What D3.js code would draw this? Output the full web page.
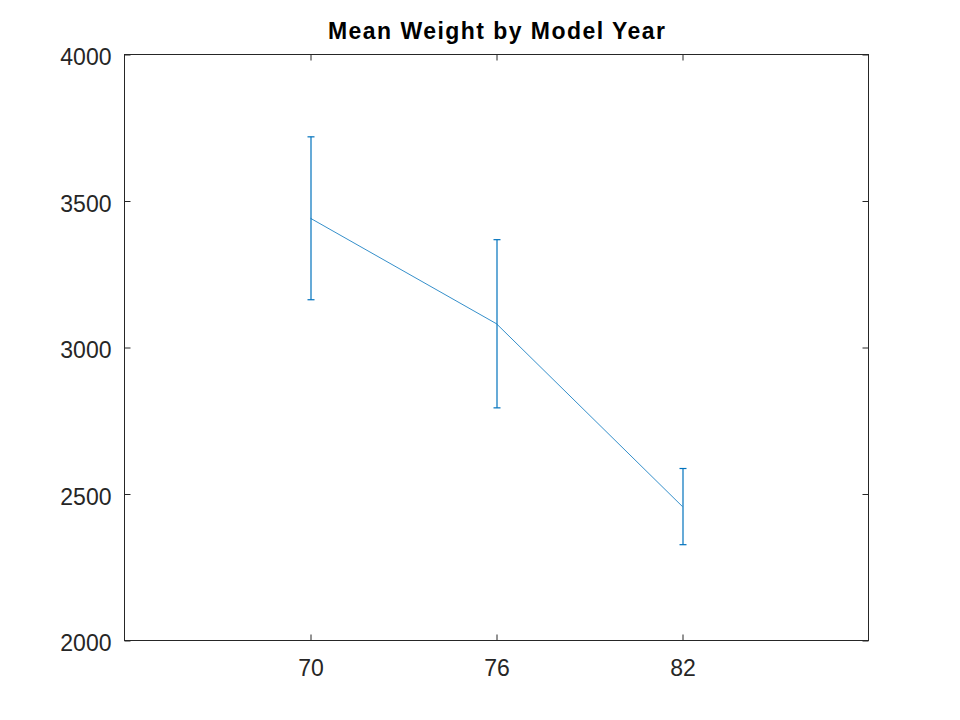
<!DOCTYPE html>
<html><head><meta charset="utf-8">
<script src="https://cdn.jsdelivr.net/npm/d3@7"></script>
<style>body{margin:0;background:#fff}svg{display:block}</style>
</head><body>
<script>
const categories = ["70", "76", "82"];
const meanWeight = [3441, 3081, 2457];
const errWeight = [278, 287, 130];
const yTicks = [2000, 2500, 3000, 3500, 4000];

const W = 960, H = 720;
const m = {left: 124.5, right: 960-868.5, top: 54.5, bottom: 720-640.5};
const svg = d3.select("body").append("svg").attr("width", W).attr("height", H);

const x = d3.scaleLinear().domain([0, categories.length + 1]).range([m.left, W - m.right]);
const y = d3.scaleLinear().domain([2000, 4000]).range([H - m.bottom, m.top]);
const font = "'Liberation Sans', Arial, Helvetica, sans-serif";
const col = "#0072bd";

const xt = categories.map((c, i) => i + 1);
function styleAxis(g){
  g.select(".domain").remove();
  g.selectAll(".tick line").attr("stroke", "#262626");
  g.selectAll(".tick text").attr("fill", "#262626").style("font-family", font).style("font-size", "23px");
}
// bottom
svg.append("g").attr("transform", `translate(0,${y(2000)})`)
  .call(d3.axisBottom(x).tickValues(xt).tickFormat((d) => categories[d-1]).tickSizeInner(-6).tickSizeOuter(0).tickPadding(19.5))
  .call(styleAxis);
// top
svg.append("g").attr("transform", `translate(0,${y(4000)})`)
  .call(d3.axisTop(x).tickValues(xt).tickFormat("").tickSizeInner(-6).tickSizeOuter(0))
  .call(styleAxis);
// left
svg.append("g").attr("transform", `translate(${x(0)},0)`)
  .call(d3.axisLeft(y).tickValues(yTicks).tickFormat(d3.format("d")).tickSizeInner(-6).tickSizeOuter(0).tickPadding(13))
  .call(styleAxis)
  .call(g => g.selectAll(".tick text").attr("dy", "0.44em"));
// right
svg.append("g").attr("transform", `translate(${x(categories.length+1)},0)`)
  .call(d3.axisRight(y).tickValues(yTicks).tickFormat("").tickSizeInner(-6).tickSizeOuter(0))
  .call(styleAxis);

// box
svg.append("rect").attr("x", x(0)).attr("y", y(4000))
  .attr("width", x(categories.length+1) - x(0)).attr("height", y(2000) - y(4000))
  .attr("fill", "none").attr("stroke", "#262626").attr("stroke-width", 1);

const data = categories.map((c, i) => ({i: i + 1, m: meanWeight[i], e: errWeight[i]}));

svg.append("path").datum(data)
  .attr("d", d3.line().x(d => x(d.i)).y(d => y(d.m)))
  .attr("fill", "none").attr("stroke", col).attr("stroke-width", 0.8);

const eb = svg.append("g").attr("stroke", col).attr("stroke-width", 1.2).attr("fill", "none");
data.forEach(d => {
  const cx = Math.round(x(d.i));
  eb.append("line").attr("x1", cx).attr("x2", cx).attr("y1", y(d.m + d.e)).attr("y2", y(d.m - d.e));
  eb.append("line").attr("x1", cx - 3.5).attr("x2", cx + 3.5).attr("y1", y(d.m + d.e)).attr("y2", y(d.m + d.e));
  eb.append("line").attr("x1", cx - 3.5).attr("x2", cx + 3.5).attr("y1", y(d.m - d.e)).attr("y2", y(d.m - d.e));
});

svg.append("text").attr("x", (x(0) + x(categories.length+1)) / 2).attr("y", 38.5)
  .attr("text-anchor", "middle").style("font-family", font).style("font-size", "23px")
  .style("font-weight", "bold").attr("fill", "#000")
  .attr("textLength", 337).attr("lengthAdjust", "spacing")
  .text("Mean Weight by Model Year");
</script>
</body></html>
